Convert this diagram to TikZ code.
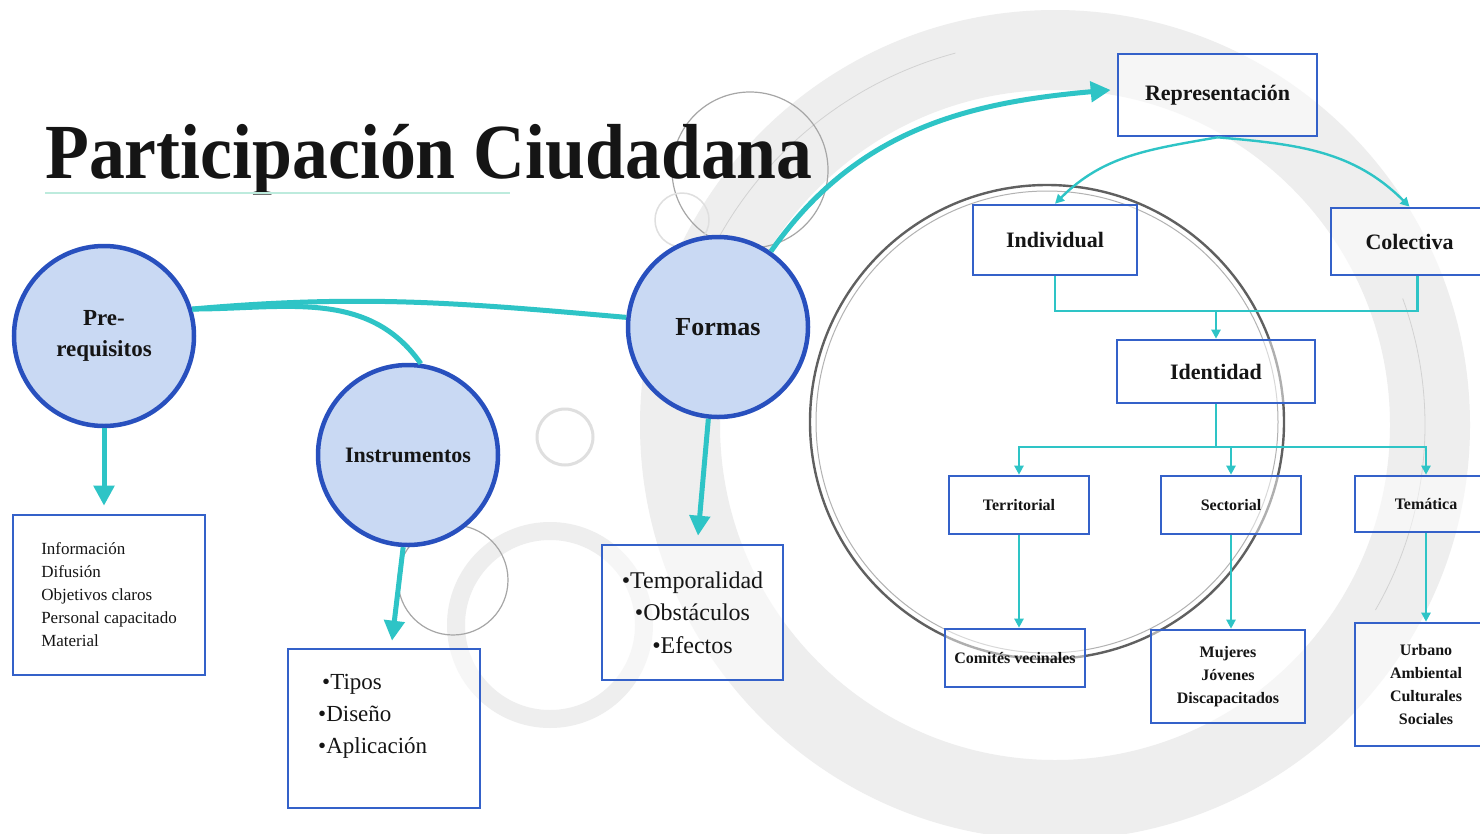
\documentclass[tikz,border=0pt]{standalone}
\usepackage{fontspec}
\setmainfont{Liberation Serif}
\usepackage{graphicx}
\usetikzlibrary{arrows.meta}
\definecolor{azulborde}{HTML}{2850BE}
\definecolor{azulfondo}{HTML}{C9D9F3}
\definecolor{azulcaja}{HTML}{3461C9}
\definecolor{cian}{HTML}{2EC4C6}
\definecolor{tinta}{HTML}{151515}
\definecolor{menta}{HTML}{BDEBDD}
\definecolor{anillo}{HTML}{EEEEEE}
\tikzset{
  circulo/.style={circle,draw=azulborde,fill=azulfondo,line width=4.5pt,minimum size=180pt,inner sep=0pt,text=tinta},
  caja/.style={rectangle,draw=azulcaja,fill=white,fill opacity=0.5,text opacity=1,line width=2.6pt,inner sep=0pt,text=tinta},
  flecha/.style={draw=cian,line width=5pt,-{Triangle[length=20pt,width=20pt]}},
  enlace/.style={draw=cian,line width=5pt},
  fina/.style={draw=cian,line width=2.4pt},
  finaflecha/.style={fina,-{Triangle[length=9pt,width=9pt]}}
}
\begin{document}
\begin{tikzpicture}[x=1pt,y=-1pt]
\useasboundingbox (0,0) rectangle (1480,833);
\fill[white] (0,0) rectangle (1480,833);
% fondo
\fill[anillo,even odd rule] (1055,425) circle[radius=415pt] (1055,425) circle[radius=335pt];
\draw[gray!35,line width=0.8pt] (1055,425) ++(105:385pt) arc[start angle=105,end angle=160,radius=385pt];
\draw[gray!35,line width=0.8pt] (1055,425) ++(20:370pt) arc[start angle=20,end angle=-30,radius=370pt];
\fill[anillo,even odd rule] (550,625) circle[radius=103pt] (550,625) circle[radius=85pt];
\draw[gray!75!black,line width=2.4pt] (1047,422) circle[radius=237pt];
\draw[gray!60,line width=1pt] (1047,422) circle[radius=231pt];
\draw[gray!70,line width=1.2pt] (750,170) circle[radius=78pt];
\draw[gray!25,line width=1.5pt] (682,220) circle[radius=27pt];
\draw[gray!25,line width=3pt] (565,437) circle[radius=28pt];
\draw[gray!70,line width=1.2pt] (453,580) circle[radius=55pt];

% titulo
\node[anchor=base west,inner sep=0pt,font=\bfseries\fontsize{78}{90}\selectfont,text=tinta] (titulo) at (45,178) {\scalebox{0.92}[1]{Participación Ciudadana}};
\draw[menta,line width=2pt] (45,193) -- (510,193);

% circulos
\node[circulo,font=\bfseries\fontsize{23}{31}\selectfont,align=center] (pre) at (104,336) {Pre-\\requisitos};
\node[circulo,font=\bfseries\fontsize{22}{26}\selectfont] (instr) at (408,455) {Instrumentos};
\node[circulo,font=\bfseries\fontsize{26}{30}\selectfont] (formas) at (718,327) {Formas};

% cajas de la izquierda
\node[caja,minimum width=192pt,minimum height=160pt,align=left,font=\fontsize{17}{23}\selectfont] (prelista) at (109,595) {Información\\Difusión\\Objetivos claros\\Personal capacitado\\Material};
\node[caja,minimum width=192pt,minimum height=159pt] (instcaja) at (384,728.5) {};
\node[anchor=north west,align=left,inner sep=0pt,font=\fontsize{23}{32}\selectfont,text=tinta] (insttexto) at (318,674) {\hspace{4pt}•Tipos\\•Diseño\\•Aplicación};
\node[caja,minimum width=181pt,minimum height=135pt,align=center,font=\fontsize{24}{32.5}\selectfont] (formcaja) at (692.5,612.5) {•Temporalidad\\•Obstáculos\\•Efectos};

% cajas de la derecha
\node[caja,minimum width=199pt,minimum height=82pt,font=\bfseries\fontsize{22}{26}\selectfont] (repre) at (1217.5,95) {Representación};
\node[caja,minimum width=164pt,minimum height=70pt,font=\bfseries\fontsize{22}{26}\selectfont] (indiv) at (1055,240) {Individual};
\node[caja,minimum width=157pt,minimum height=67pt,font=\bfseries\fontsize{22}{26}\selectfont] (colect) at (1409.5,241.5) {Colectiva};
\node[caja,minimum width=198pt,minimum height=63pt,font=\bfseries\fontsize{22}{26}\selectfont] (ident) at (1216,371.5) {Identidad};
\node[caja,minimum width=140pt,minimum height=58pt,font=\bfseries\fontsize{16}{23}\selectfont] (terr) at (1019,505) {Territorial};
\node[caja,minimum width=140pt,minimum height=58pt,font=\bfseries\fontsize{16}{23}\selectfont] (sect) at (1231,505) {Sectorial};
\node[caja,minimum width=142pt,minimum height=56pt,font=\bfseries\fontsize{16}{23}\selectfont] (tema) at (1426,504) {Temática};
\node[caja,minimum width=140pt,minimum height=58pt,font=\bfseries\fontsize{16}{23}\selectfont] (comites) at (1015,658) {Comités vecinales};
\node[caja,minimum width=154pt,minimum height=93pt,align=center,font=\bfseries\fontsize{16}{23}\selectfont] (mujeres) at (1228,676.5) {Mujeres\\Jóvenes\\Discapacitados};
\node[caja,minimum width=142pt,minimum height=123pt,align=center,font=\bfseries\fontsize{16}{23}\selectfont] (urbano) at (1426,684.5) {Urbano\\Ambiental\\Culturales\\Sociales};

% conectores
\draw[enlace] (pre.17) to[out=5,in=175] (formas.174);
\draw[enlace] (pre.17) to[out=0,in=125] (instr.82);
\draw[flecha] (pre.south) -- ([yshift=8pt]pre.south |- prelista.north);
\draw[flecha] (instr.267) -- ([xshift=8pt,yshift=7pt]instcaja.north);
\draw[flecha] (formas.264) -- ([xshift=5.5pt,yshift=8pt]formcaja.north);
\draw[flecha] (formas.55) to[out=55,in=185] ([xshift=-6pt,yshift=5pt]repre.west);

\draw[finaflecha] (repre.south) to[out=190,in=45] (indiv.north);
\draw[finaflecha] (repre.south) to[out=-5,in=135] (colect.north);
\coordinate (union) at (1216,311);
\draw[fina] (indiv.south) |- (union) -| ([xshift=8pt]colect.south);
\draw[finaflecha] (union) -- (ident.north);
\coordinate (reparto) at (1216,447);
\draw[fina] (ident.south) -- (reparto);
\draw[finaflecha] (reparto) -| (terr.north);
\draw[finaflecha] (reparto) -| (tema.north);
\draw[finaflecha] (sect.north |- reparto) -- (sect.north);
\draw[finaflecha] (terr.south) -- (terr.south |- comites.north);
\draw[finaflecha] (sect.south) -- (sect.south |- mujeres.north);
\draw[finaflecha] (tema.south) -- (urbano.north);
\end{tikzpicture}
\end{document}
